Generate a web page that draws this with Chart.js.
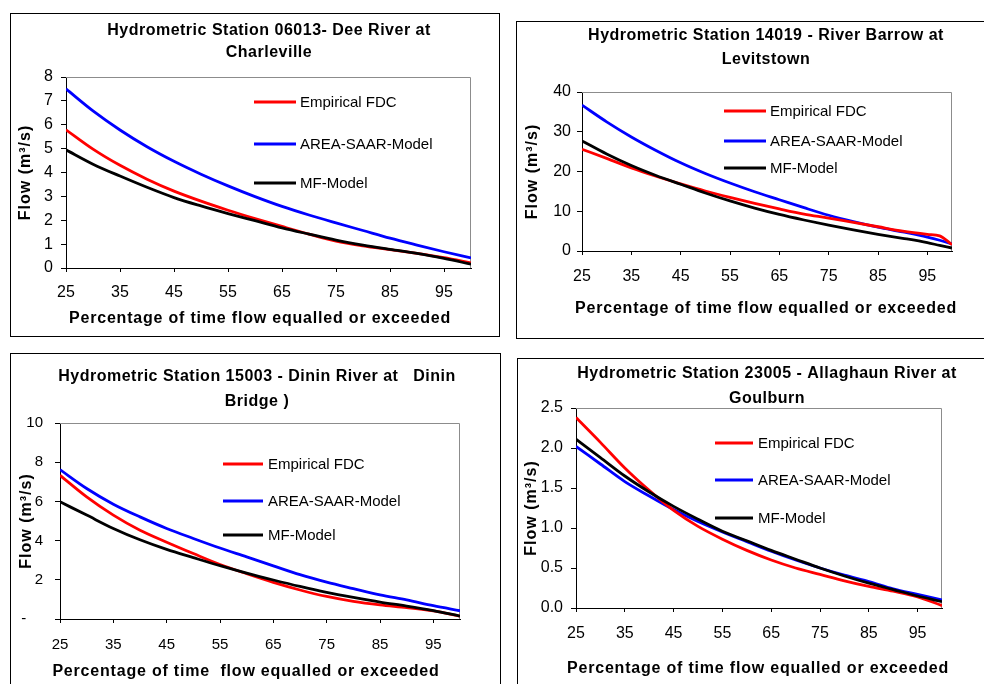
<!DOCTYPE html>
<html><head><meta charset="utf-8">
<script src="https://cdn.jsdelivr.net/npm/chart.js@4/dist/chart.umd.min.js"></script>
<style>
html,body{margin:0;padding:0;background:#fff;width:984px;height:684px;overflow:hidden;position:relative}
.panel{position:absolute;border:1px solid #000;box-sizing:border-box;background:#fff;overflow:hidden}
.panel canvas{position:absolute;left:0;top:0}
</style></head><body>
<div id="p1" class="panel"><canvas id="c1"></canvas></div>
<div id="p2" class="panel"><canvas id="c2"></canvas></div>
<div id="p3" class="panel"><canvas id="c3"></canvas></div>
<div id="p4" class="panel"><canvas id="c4"></canvas></div>
<script>
// ---------- data ----------
const seriesNames = ['Empirical FDC', 'AREA-SAAR-Model', 'MF-Model'];
const seriesColors = ['#ff0000', '#0000ff', '#000000'];
const xTickValues = [25, 35, 45, 55, 65, 75, 85, 95];
const xTitle = 'Percentage of time flow equalled or exceeded';
const xTitle3 = 'Percentage of time  flow equalled or exceeded';
const yTitle = 'Flow (m\u00B3/s)';

const pct = [25, 30, 35, 40, 45, 50, 55, 60, 65, 70, 75, 80, 85, 90, 95, 100];
const pct2 = [25, 30, 35, 40, 45, 50, 55, 60, 65, 70, 75, 80, 85, 90, 95, 97.5, 100];

// Station 06013 - Dee River at Charleville
const title1 = ['Hydrometric Station 06013- Dee River at', 'Charleville'];
const dee_emp  = [5.79, 4.98, 4.30, 3.72, 3.22, 2.80, 2.42, 2.07, 1.74, 1.42, 1.13, 0.93, 0.77, 0.61, 0.43, 0.21];
const dee_area = [7.50, 6.58, 5.78, 5.08, 4.47, 3.93, 3.44, 2.99, 2.58, 2.22, 1.89, 1.57, 1.25, 0.96, 0.68, 0.42];
const dee_mf   = [4.95, 4.35, 3.85, 3.38, 2.95, 2.60, 2.28, 1.98, 1.68, 1.42, 1.17, 0.96, 0.78, 0.61, 0.40, 0.16];
const yTicks1 = [0, 1, 2, 3, 4, 5, 6, 7, 8];

// Station 14019 - River Barrow at Levitstown
const title2 = ['Hydrometric Station 14019 - River Barrow at', 'Levitstown'];
const bar_emp  = [25.6, 23.3, 20.9, 18.8, 16.9, 15.1, 13.5, 12.0, 10.6, 9.3, 8.3, 7.2, 6.1, 5.0, 4.2, 3.8, 1.6];
const bar_area = [36.7, 32.5, 28.7, 25.3, 22.2, 19.5, 17.1, 14.9, 12.9, 10.9, 9.0, 7.4, 6.0, 4.8, 3.5, 2.7, 1.75];
const bar_mf   = [27.7, 24.4, 21.5, 19.0, 16.8, 14.6, 12.6, 10.8, 9.2, 7.8, 6.5, 5.3, 4.2, 3.2, 2.1, 1.4, 0.75];
const yTicks2 = [0, 10, 20, 30, 40];

// Station 15003 - Dinin River at Dinin Bridge
const title3 = ['Hydrometric Station 15003 - Dinin River at   Dinin', 'Bridge )'];
const din_emp  = [7.33, 6.23, 5.30, 4.53, 3.92, 3.34, 2.78, 2.31, 1.87, 1.48, 1.15, 0.90, 0.72, 0.58, 0.41, 0.15];
const din_area = [7.62, 6.66, 5.86, 5.21, 4.62, 4.11, 3.62, 3.17, 2.71, 2.26, 1.88, 1.55, 1.23, 0.97, 0.68, 0.42];
const din_mf   = [5.98, 5.30, 4.62, 4.04, 3.55, 3.13, 2.72, 2.34, 1.99, 1.66, 1.36, 1.10, 0.86, 0.66, 0.43, 0.15];
const yTicks3 = [0, 2, 4, 6, 8, 10];

// Station 23005 - Allaghaun River at Goulburn
const title4 = ['Hydrometric Station 23005 - Allaghaun River at', 'Goulburn'];
const all_emp  = [2.38, 2.07, 1.75, 1.47, 1.22, 1.02, 0.86, 0.72, 0.60, 0.50, 0.42, 0.34, 0.27, 0.21, 0.14, 0.03];
const all_area = [2.02, 1.80, 1.58, 1.40, 1.23, 1.08, 0.95, 0.83, 0.71, 0.60, 0.50, 0.41, 0.33, 0.24, 0.17, 0.10];
const all_mf   = [2.11, 1.88, 1.65, 1.45, 1.27, 1.11, 0.96, 0.84, 0.72, 0.61, 0.50, 0.40, 0.31, 0.23, 0.15, 0.08];
const yTicks4 = [0, 0.5, 1.0, 1.5, 2.0, 2.5];

// ---------- layout (absolute page pixels) ----------
const FONT = "'Liberation Sans', Arial, sans-serif";
const panels = [
  { id: 1, box: {l: 10, t: 13, r: 499, b: 336}, area: {l: 66, t: 77, r: 471, b: 268},
    title: title1, titleX: 269, titleY: [31, 53], yTitleX: 26, xTitleX: 260, xTitleY: 319, xTitleText: xTitle,
    legend: {x0: 254, x1: 296, tx: 300, ys: [102, 144, 183]},
    x: pct, s: [dee_emp, dee_area, dee_mf], yTicks: yTicks1, yMax: 8, tickSize: 16, yPad: 8, xPad: 11,
    fmt: v => String(v) },
  { id: 2, box: {l: 516, t: 21, r: 992, b: 338}, area: {l: 582, t: 92, r: 952, b: 251},
    title: title2, titleX: 766, titleY: [36, 60], yTitleX: 533, xTitleX: 766, xTitleY: 309, xTitleText: xTitle,
    legend: {x0: 724, x1: 766, tx: 770, ys: [111, 141, 168]},
    x: pct2, s: [bar_emp, bar_area, bar_mf], yTicks: yTicks2, yMax: 40, tickSize: 16, yPad: 6, xPad: 12,
    fmt: v => String(v) },
  { id: 3, box: {l: 10, t: 353, r: 500, b: 692}, area: {l: 60, t: 423, r: 460, b: 619},
    title: title3, titleX: 257, titleY: [377, 402], yTitleX: 27, xTitleX: 246, xTitleY: 672, xTitleText: xTitle3,
    legend: {x0: 223, x1: 263, tx: 268, ys: [464, 501, 535]},
    x: pct, s: [din_emp, din_area, din_mf], yTicks: yTicks3, yMax: 10, tickSize: 15, yPad: 12, xPad: 13,
    fmt: v => v === 0 ? '-    ' : String(v) },
  { id: 4, box: {l: 517, t: 358, r: 992, b: 692}, area: {l: 576, t: 408, r: 942, b: 608},
    title: title4, titleX: 767, titleY: [374, 399], yTitleX: 532, xTitleX: 758, xTitleY: 669, xTitleText: xTitle,
    legend: {x0: 715, x1: 753, tx: 758, ys: [443, 480, 518]},
    x: pct, s: [all_emp, all_area, all_mf], yTicks: yTicks4, yMax: 2.5, tickSize: 16, yPad: 8, xPad: 12,
    fmt: v => v.toFixed(1) }
];

const decor = {
  id: 'decor',
  beforeDatasetsDraw(chart, args, o) {
    const ca = chart.chartArea, ctx = chart.ctx;
    ctx.save();
    ctx.strokeStyle = '#8c8c8c';
    ctx.lineWidth = 1;
    ctx.beginPath();
    ctx.moveTo(ca.left, ca.top + 0.5);
    ctx.lineTo(ca.right - 0.5, ca.top + 0.5);
    ctx.lineTo(ca.right - 0.5, ca.bottom);
    ctx.stroke();
    ctx.restore();
  },
  afterDraw(chart, args, o) {
    const p = o.panel, ctx = chart.ctx;
    const ox = p.box.l + 1, oy = p.box.t + 1;
    ctx.save();
    ctx.fillStyle = '#000';
    ctx.textBaseline = 'middle';
    // chart title
    ctx.font = 'bold 16px ' + FONT;
    ctx.letterSpacing = '0.5px';
    ctx.textAlign = 'center';
    p.title.forEach((t, i) => ctx.fillText(t, p.titleX - ox, p.titleY[i] - oy));
    // x axis title
    ctx.letterSpacing = '0.8px';
    ctx.fillText(p.xTitleText, p.xTitleX - ox, p.xTitleY - oy);
    // y axis title
    ctx.save();
    ctx.translate(p.yTitleX - ox, (p.area.t + p.area.b) / 2 - oy);
    ctx.rotate(-Math.PI / 2);
    ctx.letterSpacing = '1px';
    ctx.fillText(yTitle, 0, 0);
    ctx.restore();
    // legend
    ctx.letterSpacing = '0px';
    ctx.font = '15px ' + FONT;
    ctx.textAlign = 'left';
    ctx.lineWidth = 3;
    seriesNames.forEach((n, i) => {
      const y = p.legend.ys[i] - oy;
      ctx.strokeStyle = seriesColors[i];
      ctx.beginPath();
      ctx.moveTo(p.legend.x0 - ox, y);
      ctx.lineTo(p.legend.x1 - ox, y);
      ctx.stroke();
      ctx.fillText(n, p.legend.tx - ox, y + 1);
    });
    ctx.restore();
  }
};

panels.forEach(p => {
  const div = document.getElementById('p' + p.id);
  div.style.left = p.box.l + 'px';
  div.style.top = p.box.t + 'px';
  div.style.width = (p.box.r - p.box.l + 1) + 'px';
  div.style.height = (p.box.b - p.box.t + 1) + 'px';
  const cw = p.box.r - p.box.l - 1, ch = p.box.b - p.box.t - 1;
  const ox = p.box.l + 1, oy = p.box.t + 1;
  const canvas = document.getElementById('c' + p.id);
  canvas.width = cw; canvas.height = ch;
  canvas.style.width = cw + 'px'; canvas.style.height = ch + 'px';
  const order = [2, 0, 1]; // MF on top
  const datasets = order.map(i => ({
    label: seriesNames[i],
    data: p.x.map((xv, k) => ({x: xv, y: p.s[i][k]})),
    borderColor: seriesColors[i],
    backgroundColor: seriesColors[i],
    borderWidth: 2.8,
    pointRadius: 0,
    fill: false,
    cubicInterpolationMode: 'monotone'
  }));
  new Chart(canvas, {
    type: 'line',
    data: { datasets },
    plugins: [decor],
    options: {
      responsive: false,
      animation: false,
      devicePixelRatio: 1,
      layout: { padding: { left: 0, top: p.area.t - oy, right: cw - (p.area.r - ox), bottom: 0 } },
      plugins: { legend: { display: false }, title: { display: false }, tooltip: { enabled: false }, decor: { panel: p } },
      scales: {
        x: {
          type: 'linear', min: 25, max: 100,
          afterFit(s) { s.height = ch - (p.area.b - oy); },
          afterBuildTicks(s) { s.ticks = xTickValues.map(v => ({value: v})); },
          grid: { drawOnChartArea: false, color: '#000', tickLength: 4, tickWidth: 1 },
          border: { color: '#000', width: 1 },
          ticks: { color: '#000', font: { family: FONT, size: p.tickSize }, padding: p.xPad, maxRotation: 0, autoSkip: false,
                   callback: v => String(v) }
        },
        y: {
          type: 'linear', min: 0, max: p.yMax,
          afterFit(s) { s.width = p.area.l - ox; },
          afterBuildTicks(s) { s.ticks = p.yTicks.map(v => ({value: v})); },
          grid: { drawOnChartArea: false, color: '#000', tickLength: 5, tickWidth: 1 },
          border: { color: '#000', width: 1 },
          ticks: { color: '#000', font: { family: FONT, size: p.tickSize }, padding: p.yPad, autoSkip: false,
                   callback: v => p.fmt(v) }
        }
      }
    }
  });
});
</script>
</body></html>
